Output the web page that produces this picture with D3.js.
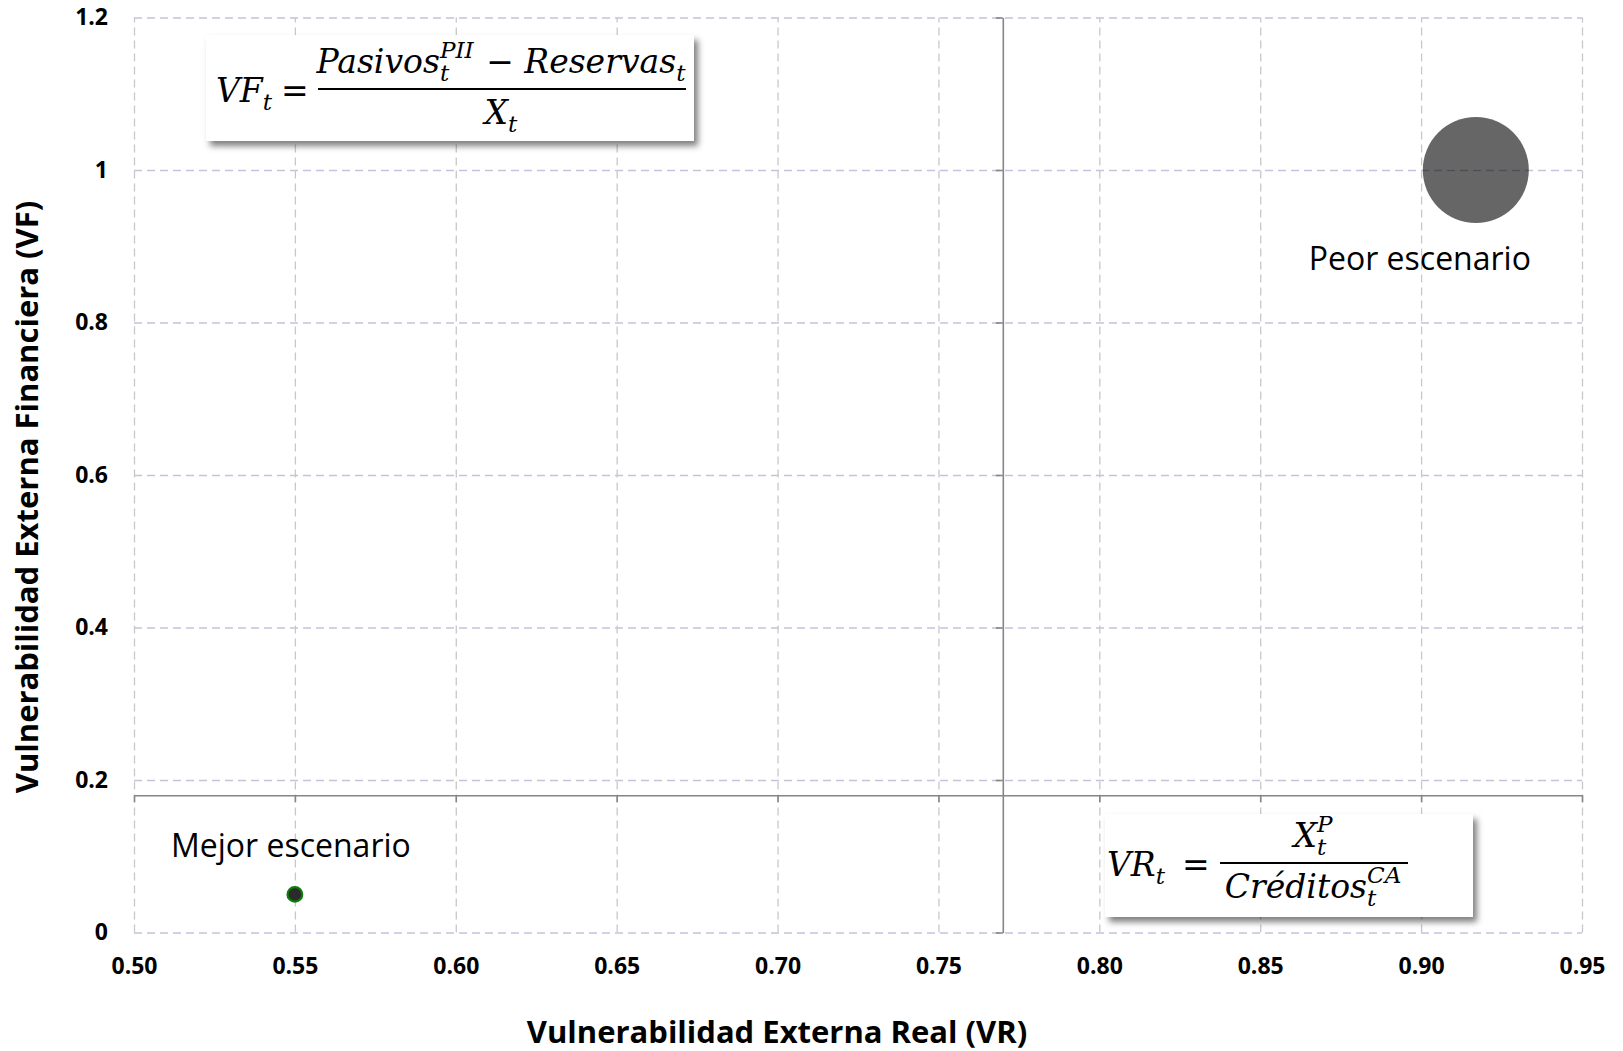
<!DOCTYPE html>
<html>
<head>
<meta charset="utf-8">
<script src="https://cdn.jsdelivr.net/npm/d3@7"></script>
<style>
    body { margin: 0; background: #fff; }
</style>
</head>
<body>
<div id="chart"></div>
<script>
// chart values
const vr_ticks = [0.50, 0.55, 0.60, 0.65, 0.70, 0.75, 0.80, 0.85, 0.90, 0.95];
const vf_ticks = [0, 0.2, 0.4, 0.6, 0.8, 1, 1.2];
const vr_tick_labels = ["0.50", "0.55", "0.60", "0.65", "0.70", "0.75", "0.80", "0.85", "0.90", "0.95"];
const vf_tick_labels = ["0", "0.2", "0.4", "0.6", "0.8", "1", "1.2"];
const scenarios = ["Mejor escenario", "Peor escenario"];
const scenario_vr = [0.55, 0.917];
const scenario_vf = [0.05, 1.0];
const scenario_size = [1, 52];
const cross_vr = 0.77;   // where the vertical axis crosses
const cross_vf = 0.18;   // where the horizontal axis crosses

const width = 1623, height = 1051;
const margin = {top: 17.5, right: 41, bottom: 118.5, left: 134};
const plot_w = width - margin.left - margin.right;
const plot_h = height - margin.top - margin.bottom;

const label_font = "'Open Sans', Lato, sans-serif";
const math_font = "'DejaVu Serif', serif";

let svg = d3.select("#chart")
    .append("svg")
    .attr("width", width)
    .attr("height", height);

// shadow for the formula boxes
svg.append("defs").append("filter")
    .attr("id", "shadow")
    .attr("x", "-10%").attr("y", "-10%")
    .attr("width", "130%").attr("height", "140%")
    .append("feDropShadow")
    .attr("dx", 4).attr("dy", 5)
    .attr("stdDeviation", 3)
    .attr("flood-color", "#000")
    .attr("flood-opacity", 0.5);

let g = svg.append("g")
    .attr("transform", `translate(${margin.left}, ${margin.top})`);

let x = d3.scaleLinear().domain([0.5, 0.95]).range([0, plot_w]);
let y = d3.scaleLinear().domain([0, 1.2]).range([plot_h, 0]);
let r = d3.scaleSqrt().domain([0, 52]).range([0, 53]);

// horizontal gridlines (lavender)
g.append("g")
    .call(d3.axisLeft(y).tickValues(vf_ticks).tickSize(-plot_w).tickFormat(""))
    .call(a => a.select(".domain").remove())
    .selectAll("line")
    .attr("stroke", "#c9c1dc")
    .attr("stroke-width", 1.3)
    .attr("stroke-dasharray", "8,5");

// vertical gridlines (grey)
g.append("g")
    .attr("transform", `translate(0, ${plot_h})`)
    .call(d3.axisBottom(x).tickValues(vr_ticks).tickSize(-plot_h).tickFormat(""))
    .call(a => a.select(".domain").remove())
    .selectAll("line")
    .attr("stroke", "#c8c8c8")
    .attr("stroke-width", 1.3)
    .attr("stroke-dasharray", "8,5");

// crossing axes with outside ticks
let x_axis = g.append("g")
    .attr("transform", `translate(0, ${y(cross_vf)})`)
    .call(d3.axisBottom(x).tickValues(vr_ticks).tickSize(7).tickSizeOuter(0).tickFormat(""));
let y_axis = g.append("g")
    .attr("transform", `translate(${x(cross_vr)}, 0)`)
    .call(d3.axisLeft(y).tickValues(vf_ticks).tickSize(7).tickSizeOuter(0).tickFormat(""));
[x_axis, y_axis].forEach(a => {
    a.selectAll("line, path").attr("stroke", "#868686").attr("stroke-width", 1.6);
});

// tick labels sit low, at the edges of the plot
g.append("g")
    .attr("transform", `translate(0, ${plot_h})`)
    .call(d3.axisBottom(x).tickValues(vr_ticks).tickSize(0).tickPadding(25)
        .tickFormat((d, i) => vr_tick_labels[i]))
    .call(a => a.select(".domain").remove())
    .selectAll("text")
    .style("font-family", label_font)
    .style("font-weight", 700)
    .style("font-size", "23px")
    .attr("fill", "#000");

g.append("g")
    .call(d3.axisLeft(y).tickValues(vf_ticks).tickSize(0).tickPadding(26)
        .tickFormat((d, i) => vf_tick_labels[i]))
    .call(a => a.select(".domain").remove())
    .selectAll("text")
    .style("font-family", label_font)
    .style("font-weight", 700)
    .style("font-size", "23px")
    .attr("fill", "#000");

// scenario bubbles
let bubble_data = scenarios.map((s, i) => [s, scenario_vr[i], scenario_vf[i], scenario_size[i]]);

g.selectAll("circle.bubble").data(bubble_data)
    .enter()
    .append("circle")
    .attr("class", "bubble")
    .attr("cx", d => x(d[1]))
    .attr("cy", d => y(d[2]))
    .attr("r", d => r(d[3]))
    .attr("fill", (d, i) => i == 0 ? "#2b2b2b" : "#000")
    .attr("fill-opacity", (d, i) => i == 0 ? 1 : 0.6)
    .attr("stroke", (d, i) => i == 0 ? "#0b7d0b" : "none")
    .attr("stroke-width", 2.2);

// scenario labels
let label_offset = [[-4, -37], [-56, 100]];
g.selectAll("text.scenario").data(bubble_data)
    .enter()
    .append("text")
    .attr("class", "scenario")
    .attr("x", (d, i) => x(d[1]) + label_offset[i][0])
    .attr("y", (d, i) => y(d[2]) + label_offset[i][1])
    .style("text-anchor", "middle")
    .style("font-family", label_font)
    .style("font-size", "32px")
    .attr("fill", "#000")
    .text(d => d[0]);

// axis titles
svg.append("text")
    .attr("transform", "translate(777, 1043)")
    .style("text-anchor", "middle")
    .style("font-family", label_font)
    .style("font-weight", 700)
    .style("font-size", "31px")
    .text("Vulnerabilidad Externa Real (VR)");

svg.append("text")
    .attr("transform", "translate(38, 497) rotate(-90)")
    .style("text-anchor", "middle")
    .style("font-family", label_font)
    .style("font-weight", 700)
    .style("font-size", "31px")
    .text("Vulnerabilidad Externa Financiera (VF)");

/***** FORMULAS *****/

const math_size = 33;

// draws a row of math pieces on baseline 0, returns its width
let mathRow = function(parent, parts) {
    let pos = 0;
    for (const p of parts) {
        if (p.t) {
            let t = parent.append("text")
                .attr("x", pos)
                .style("font-family", math_font)
                .style("font-style", p.up ? "normal" : "italic")
                .style("font-size", math_size + "px")
                .style("white-space", "pre")
                .attr("xml:space", "preserve")
                .text(p.t);
            pos += t.node().getComputedTextLength();
        } else {
            let w = 0;
            if (p.sup) {
                let t = parent.append("text")
                    .attr("x", pos).attr("y", -math_size * 0.45)
                    .style("font-family", math_font).style("font-style", "italic")
                    .style("font-size", (math_size * 0.7) + "px")
                    .text(p.sup);
                w = Math.max(w, t.node().getComputedTextLength());
            }
            if (p.sub) {
                let t = parent.append("text")
                    .attr("x", pos).attr("y", math_size * 0.25)
                    .style("font-family", math_font).style("font-style", "italic")
                    .style("font-size", (math_size * 0.7) + "px")
                    .text(p.sub);
                w = Math.max(w, t.node().getComputedTextLength());
            }
            pos += w + 2;
        }
    }
    return pos;
};

let formula = function(box, lhs, eq_x, line, num, den) {
    let f = svg.append("g");
    f.append("rect")
        .attr("x", box[0]).attr("y", box[1])
        .attr("width", box[2]).attr("height", box[3])
        .attr("fill", "#fff")
        .attr("filter", "url(#shadow)");
    // left-hand side and equal sign
    let lg = f.append("g").attr("transform", `translate(${lhs[0]}, ${line[2] + 13})`);
    mathRow(lg, lhs[1]);
    f.append("g").attr("transform", `translate(${eq_x}, ${line[2] + 13})`)
        .call(s => mathRow(s, [{t: "=", up: true}]));
    // fraction bar
    f.append("line")
        .attr("x1", line[0]).attr("x2", line[1])
        .attr("y1", line[2]).attr("y2", line[2])
        .attr("stroke", "#000").attr("stroke-width", 2);
    let mid = (line[0] + line[1]) / 2;
    let ng = f.append("g");
    let nw = mathRow(ng, num);
    ng.attr("transform", `translate(${mid - nw / 2}, ${line[2] - 16})`);
    let dg = f.append("g");
    let dw = mathRow(dg, den);
    dg.attr("transform", `translate(${mid - dw / 2}, ${line[2] + 35})`);
};

formula([206, 35, 488, 106],
    [216, [{t: "VF"}, {sub: "t"}]], 281,
    [318, 686, 89],
    [{t: "Pasivos"}, {sub: "t", sup: "PII"}, {t: " \u2212 ", up: true}, {t: "Reservas"}, {sub: "t"}],
    [{t: "X"}, {sub: "t"}]);

formula([1105, 814, 368, 103],
    [1107, [{t: "VR"}, {sub: "t"}]], 1182,
    [1220, 1408, 863],
    [{t: "X"}, {sub: "t", sup: "P"}],
    [{t: "Créditos"}, {sub: "t", sup: "CA"}]);
</script>
</body>
</html>
